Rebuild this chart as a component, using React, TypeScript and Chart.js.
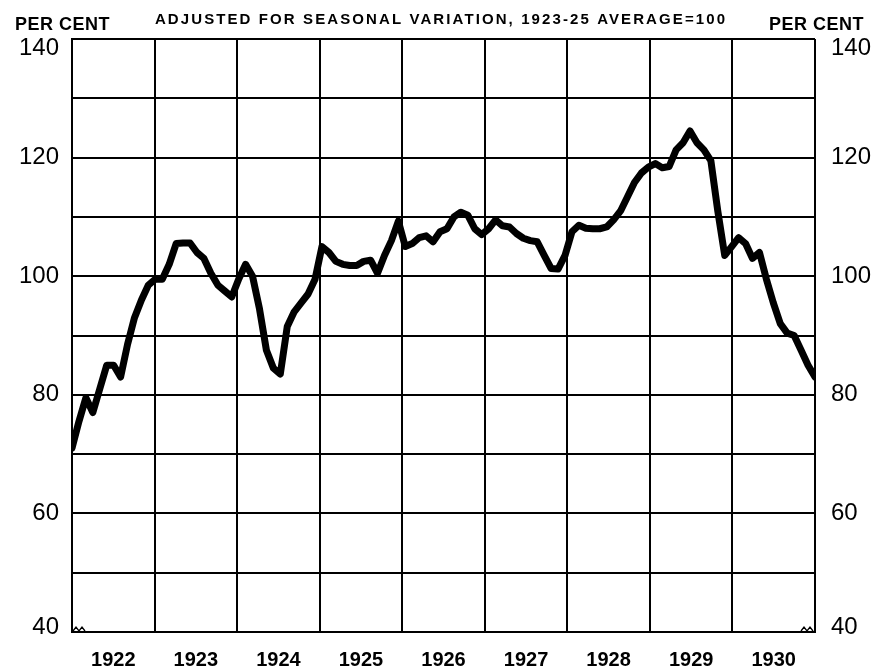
import React, { useEffect, useRef } from "react";
import { Chart, registerables } from "chart.js";

Chart.register(...registerables);

const YEARS = ["1922", "1923", "1924", "1925", "1926", "1927", "1928", "1929", "1930"];
const Y_LABELS = [40, 60, 80, 100, 120, 140];
const TITLE = "ADJUSTED FOR SEASONAL VARIATION, 1923-25 AVERAGE=100";
const UNIT = "PER CENT";

const V1922 = [71, 75.5, 79.5, 77, 81, 85, 85, 83, 88.5, 93, 96, 98.5];
const V1923 = [99.5, 99.5, 102, 105.5, 105.6, 105.6, 104, 103, 100.5, 98.5, 97.5, 96.5];
const V1924 = [99.5, 102, 100, 94.5, 87.5, 84.5, 83.5, 91.5, 94, 95.5, 97, 99.5];
const V1925 = [105, 104, 102.5, 102, 101.8, 101.8, 102.5, 102.7, 100.5, 103.5, 106, 109.3];
const V1926 = [105, 105.5, 106.5, 106.8, 105.8, 107.5, 108, 110, 110.8, 110.3, 108, 107];
const V1927 = [108, 109.5, 108.5, 108.3, 107.2, 106.4, 106, 105.8, 103.5, 101.3, 101.2, 103.5];
const V1928 = [107.5, 108.6, 108.1, 108, 108, 108.3, 109.5, 111, 113.4, 115.8, 117.4, 118.4];
const V1929 = [119, 118.3, 118.5, 121.3, 122.5, 124.5, 122.5, 121.3, 119.5, 111, 103.5, 105];
const V1930 = [106.5, 105.5, 103, 104, 99.5, 95.5, 92, 90.4, 90, 87.5, 85, 83];

const VALUES = [
  ...V1922, ...V1923, ...V1924, ...V1925, ...V1926,
  ...V1927, ...V1928, ...V1929, ...V1930,
];

const SPAN = YEARS.length * 12;

const textPlugin = {
  id: "textPlugin",
  afterDraw(chart: any) {
    const { ctx, chartArea, scales } = chart;
    const ys = scales.y;
    ctx.save();
    ctx.fillStyle = "#000";
    ctx.textBaseline = "middle";
    ctx.font = '24px "Liberation Sans", Arial, sans-serif';
    for (const v of Y_LABELS) {
      let y = ys.getPixelForValue(v);
      y = Math.min(Math.max(y, chartArea.top + 9), chartArea.bottom - 5);
      ctx.textAlign = "right";
      ctx.fillText(String(v), chartArea.left - 13, y);
      ctx.textAlign = "left";
      ctx.fillText(String(v), chartArea.right + 16, y);
    }
    ctx.font = 'bold 18px "Liberation Sans", Arial, sans-serif';
    (ctx as any).letterSpacing = "0.5px";
    ctx.textAlign = "left";
    ctx.fillText(UNIT, 15, 25);
    ctx.fillText(UNIT, 769, 25);
    ctx.font = 'bold 15px "Liberation Sans", Arial, sans-serif';
    (ctx as any).letterSpacing = "2.1px";
    ctx.textAlign = "center";
    ctx.fillText(TITLE, 441, 20);
    (ctx as any).letterSpacing = "0px";
    // axis break marks
    ctx.strokeStyle = "#000";
    ctx.lineWidth = 1.3;
    const b = chartArea.bottom;
    const squiggle = (x0: number) => {
      ctx.beginPath();
      ctx.moveTo(x0, b - 1);
      ctx.lineTo(x0 + 3, b - 5);
      ctx.lineTo(x0 + 6, b - 1);
      ctx.lineTo(x0 + 9, b - 5);
      ctx.lineTo(x0 + 12, b - 1);
      ctx.stroke();
    };
    squiggle(chartArea.left + 1);
    squiggle(chartArea.right - 14);
    ctx.restore();
  },
};

export default function App() {
  const ref = useRef<HTMLCanvasElement>(null);
  useEffect(() => {
    if (!ref.current) return;
    const n = VALUES.length;
    const points = VALUES.map((v, i) => ({ x: (i * SPAN) / (n - 1), y: v }));
    const chart = new Chart(ref.current, {
      type: "line",
      data: {
        datasets: [
          {
            data: points,
            borderColor: "#000",
            borderWidth: 7,
            pointRadius: 0,
            tension: 0,
            borderJoinStyle: "round",
            borderCapStyle: "round",
            fill: false,
          },
        ],
      },
      options: {
        animation: false,
        responsive: false,
        events: [],
        layout: { padding: { left: 72, right: 61, top: 39, bottom: 0 } },
        plugins: { legend: { display: false }, tooltip: { enabled: false } },
        scales: {
          x: {
            type: "linear",
            min: 0,
            max: SPAN,
            afterBuildTicks: (scale: any) => {
              const t = [];
              for (let v = 0; v <= SPAN; v += 6) t.push({ value: v });
              scale.ticks = t;
            },
            afterFit: (scale: any) => {
              scale.height = 37;
            },
            grid: {
              drawTicks: false,
              color: (c: any) => (c.tick && c.tick.value % 12 === 0 ? "#000" : "rgba(0,0,0,0)"),
              lineWidth: 2,
            },
            border: { display: true, color: "#000", width: 2 },
            ticks: {
              autoSkip: false,
              maxRotation: 0,
              padding: 16,
              color: "#000",
              font: { family: '"Liberation Sans", Arial, sans-serif', size: 20, weight: "bold" },
              callback: (v: any) => (v % 12 === 6 ? YEARS[(v - 6) / 12] : ""),
            },
          },
          y: {
            min: 40,
            max: 140,
            ticks: { stepSize: 10, display: false },
            grid: { drawTicks: false, color: "#000", lineWidth: 2 },
            border: { display: true, color: "#000", width: 2 },
          },
        },
      },
      plugins: [textPlugin],
    });
    return () => chart.destroy();
  }, []);
  return (
    <div style={{ position: "fixed", left: 0, top: 0, width: 876, height: 669, background: "#fff" }}>
      <canvas ref={ref} width={876} height={669} />
    </div>
  );
}
